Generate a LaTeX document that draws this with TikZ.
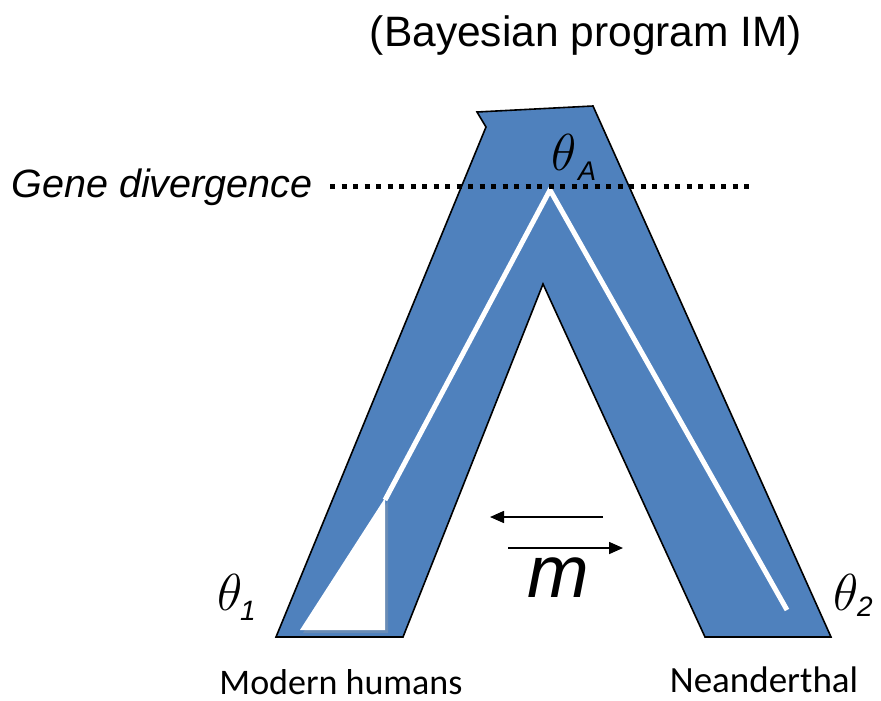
\RequirePackage{fix-cm}
\documentclass[tikz,border=0pt]{standalone}
\usepackage{fontspec}
\setmainfont{Liberation Sans}
\newfontfamily\calib{Carlito}
\usetikzlibrary{arrows.meta}
\definecolor{popblue}{HTML}{4F81BD}
\tikzset{
  lbl/.style={inner sep=0pt, anchor=center},
  thetalbl/.style={inner sep=0pt, font=\fontsize{52}{52}\selectfont},
  sub/.style={inner sep=0pt, font=\fontsize{28}{28}\selectfont\itshape},
  arr/.style={line width=1.6pt, -{Triangle[length=14pt,width=12pt]}},
}
\begin{document}
\begin{tikzpicture}[x=1pt,y=-1pt]
\useasboundingbox (0,0) rectangle (881,701);
% population tree
\filldraw[fill=popblue, draw=black, line width=1.6pt, line join=miter]
  (477,112) -- (593,106) -- (831,637) -- (705,637) -- (543,284) -- (403,637)
  -- (276,637) -- (486,127) -- cycle;
% white gene lines
\draw[white, line width=5pt] (385,500) -- (550,190) -- (787,610);
% shadow of white triangle
\fill[black!35, opacity=0.3] (303,633) -- (388,501) -- (388,633) -- cycle;
\fill[white] (300,630) -- (385,498) -- (385,630) -- cycle;
% dotted divergence line
\coordinate (d1) at (330,186);
\coordinate (d2) at (750,186);
\draw[black, line width=5pt, dash pattern=on 5pt off 6.5pt] (d1) -- (d2);
% texts
\node[lbl, font=\fontsize{42.5}{42.5}\selectfont] (title) at (586,36) {(Bayesian program IM)};
\node[lbl, font=\fontsize{39.5}{39.5}\selectfont\itshape] (gene) at (162,187) {Gene divergence};
\node[thetalbl] (thA) at (564,152) {$\theta$};
\node[sub, font=\fontsize{27}{27}\selectfont\itshape] (thAs) at (587,171) {A};
\node[thetalbl] (th1) at (230,592) {$\theta$};
\node[sub] (th1s) at (248,611) {1};
\node[thetalbl] (th2) at (846,592) {$\theta$};
\node[sub] (th2s) at (865,607) {2};
\node[lbl, font=\fontsize{74}{74}\selectfont\itshape] (m) at (558,578) {m};
\node[lbl, font=\calib\fontsize{36}{36}\selectfont] (mh) at (341,682) {Modern humans};
\node[lbl, font=\calib\fontsize{37}{37}\selectfont] (ne) at (764,680) {Neanderthal};
% migration arrows
\coordinate (a1s) at (603,517);
\coordinate (a1e) at (490,517);
\coordinate (a2s) at (508,548);
\coordinate (a2e) at (623,548);
\draw[arr] (a1s) -- (a1e);
\draw[arr] (a2s) -- (a2e);
\end{tikzpicture}
\end{document}
